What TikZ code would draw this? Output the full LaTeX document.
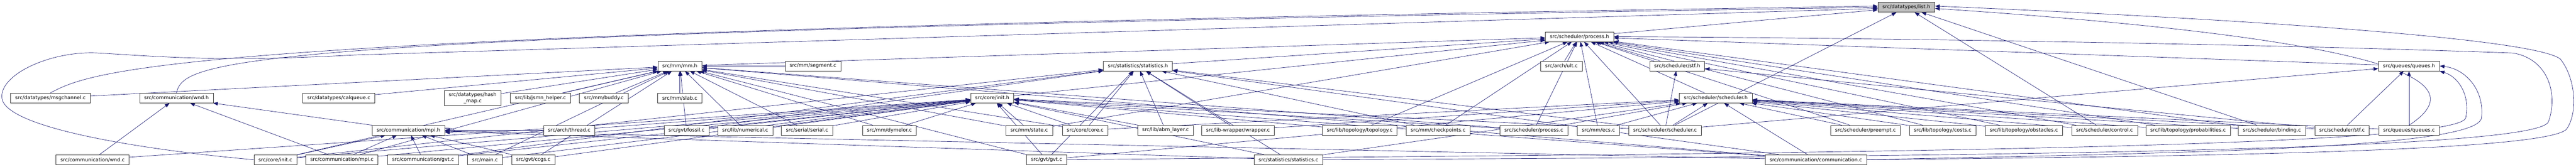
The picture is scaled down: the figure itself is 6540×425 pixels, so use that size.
\documentclass[tikz,border=0pt]{standalone}
\usepackage{fontspec}
\setmainfont{DejaVu Sans}
\usetikzlibrary{arrows.meta,positioning,backgrounds}
\definecolor{midblue}{RGB}{25,25,112}

\begin{document}
\begin{tikzpicture}[
    x=1pt, y=-1pt,
    font=\fontsize{12.7}{15}\selectfont,
    filebox/.style={rectangle, draw=black!80, fill=white, line width=0.9pt, minimum height=25pt, inner xsep=11.5pt, inner ysep=2pt},
    mainbox/.style={filebox, fill=black!25},
    arr/.style={-{Triangle[length=12pt,width=9pt]}, color=midblue, line width=0.9pt}
]
    \useasboundingbox (0,0) rectangle (6540,425);

    \node[mainbox] (listh) at (4840,18.5) {src/datatypes/list.h};
    \node[filebox] (processh) at (4010,93.5) {src/scheduler/process.h};

    \node[filebox] (mmh) at (1726,168) {src/mm/mm.h};
    \node[filebox] (segmentc) at (2064,168) {src/mm/segment.c};
    \node[filebox] (statsh) at (2889,168) {src/statistics/statistics.h};
    \node[filebox] (ultc) at (3964,168) {src/arch/ult.c};
    \node[filebox] (stfh) at (4258,168) {src/scheduler/stf.h};
    \node[filebox] (queuesh) at (6116,168) {src/queues/queues.h};

    \node[filebox] (msgchc) at (128,249.5) {src/datatypes/msgchannel.c};
    \node[filebox] (wndh) at (448,249.5) {src/communication/wnd.h};
    \node[filebox] (calqc) at (860,249.5) {src/datatypes/calqueue.c};
    \node[filebox, align=center, inner ysep=5.5pt] (hashc) at (1200,249.5) {src/datatypes/hash\\\_map.c};
    \node[filebox] (jsmnc) at (1372,249.5) {src/lib/jsmn\_helper.c};
    \node[filebox] (buddyc) at (1533,249.5) {src/mm/buddy.c};
    \node[filebox, below=56pt of mmh] (slabc) {src/mm/slab.c};
    \node[filebox] (inith) at (2519,249.5) {src/core/init.h};
    \node[filebox] (schedh) at (4356,249.5) {src/scheduler/scheduler.h};

    \node[filebox] (mpih) at (1037,331.5) {src/communication/mpi.h};
    \node[filebox] (threadc) at (1445,331.5) {src/arch/thread.c};
    \node[filebox] (fossilc) at (1743,331.5) {src/gvt/fossil.c};
    \node[filebox] (numc) at (1892,331.5) {src/lib/numerical.c};
    \node[filebox] (serialc) at (2049,331.5) {src/serial/serial.c};
    \node[filebox] (dymelorc) at (2258,331.5) {src/mm/dymelor.c};
    \node[filebox] (statec) at (2613,331.5) {src/mm/state.c};
    \node[filebox] (corec) at (2755,331.5) {src/core/core.c};
    \node[filebox] (abmc) at (2959,331.5) {src/lib/abm\_layer.c};
    \node[filebox] (wrapperc) at (3143,331.5) {src/lib-wrapper/wrapper.c};
    \node[filebox] (topoc) at (3452,331.5) {src/lib/topology/topology.c};
    \node[filebox] (ckptc) at (3651,331.5) {src/mm/checkpoints.c};
    \node[filebox] (procc) at (3894,331.5) {src/scheduler/process.c};
    \node[filebox] (ecsc) at (4058,331.5) {src/mm/ecs.c};
    \node[filebox] (schedc) at (4227,331.5) {src/scheduler/scheduler.c};
    \node[filebox] (preemptc) at (4736,331.5) {src/scheduler/preempt.c};
    \node[filebox] (costsc) at (4932,331.5) {src/lib/topology/costs.c};
    \node[filebox] (obstc) at (5138,331.5) {src/lib/topology/obstacles.c};
    \node[filebox] (controlc) at (5343,331.5) {src/scheduler/control.c};
    \node[filebox] (probc) at (5555,331.5) {src/lib/topology/probabilities.c};
    \node[filebox] (bindingc) at (5768,331.5) {src/scheduler/binding.c};
    \node[filebox] (stfc) at (5946,331.5) {src/scheduler/stf.c};
    \node[filebox, below=138pt of queuesh] (queuesc) {src/queues/queues.c};

    \node[filebox] (wndc) at (235,406.5) {src/communication/wnd.c};
    \node[filebox] (initc) at (699,406.5) {src/core/init.c};
    \node[filebox] (mpic) at (868,406.5) {src/communication/mpi.c};
    \node[filebox] (commgvtc) at (1074,406.5) {src/communication/gvt.c};
    \node[filebox] (mainc) at (1231,406.5) {src/main.c};
    \node[filebox] (ccgsc) at (1354,406.5) {src/gvt/ccgs.c};
    \node[filebox] (gvtc) at (2657,406.5) {src/gvt/gvt.c};
    \node[filebox] (statsc) at (3271,406.5) {src/statistics/statistics.c};
    \node[filebox] (commc) at (4610,406.5) {src/communication/communication.c};

    \begin{scope}[on background layer]
    \draw[arr] (processh) -- (listh);
    \draw[arr] (msgchc.north) .. controls (250,170) and (500,80) .. ([yshift=3pt]listh.west);
    \draw[arr] (wndh.north) .. controls (470,150) and (560,85) .. (listh.west);
    \draw[arr] (initc.west) .. controls (400,385) and (15,330) .. (5,250) .. controls (-3,190) and (130,128) .. (250,135) .. controls (420,145) and (560,158) .. (900,140) -- ([yshift=-3pt]listh.west);
    \draw[arr] (schedc) -- (listh);
    \draw[arr] (controlc) -- (listh);
    \draw[arr] (bindingc) -- (listh);
    \draw[arr] (queuesc.north) .. controls (6250,230) and (6230,110) .. ([yshift=-3pt]listh.east);
    \draw[arr] (commc.east) .. controls (5600,398) and (6450,385) .. (6515,330) .. controls (6545,290) and (6540,200) .. (6500,150) .. controls (6420,90) and (5500,40) .. ([yshift=3pt]listh.east);

    \draw[arr] (stfh) -- (processh);
    \draw[arr] (mmh) -- (processh);
    \draw[arr] (statsh) -- (processh);
    \draw[arr] (queuesh) -- (processh);
    \draw[arr] (inith) -- (processh);
    \draw[arr] (schedh) -- (processh);
    \draw[arr] (ultc) -- (processh);
    \draw[arr] (statec) -- (processh);
    \draw[arr] (topoc) -- (processh);
    \draw[arr] (ckptc) -- (processh);
    \draw[arr] (procc) -- (processh);
    \draw[arr] (ecsc) -- (processh);
    \draw[arr] (schedc) -- (processh);
    \draw[arr] (preemptc) -- (processh);
    \draw[arr] (costsc) -- (processh);
    \draw[arr] (obstc) -- (processh);
    \draw[arr] (controlc) -- (processh);
    \draw[arr] (probc) -- (processh);
    \draw[arr] (bindingc) -- (processh);
    \draw[arr] (statsc.east) .. controls (5000,398) and (6440,385) .. (6470,310) .. controls (6495,240) and (6470,150) .. (6380,135) .. controls (5700,110) and (4600,95) .. (processh.east);

    \draw[arr] (msgchc) -- (mmh);
    \draw[arr] (calqc) -- (mmh);
    \draw[arr] (hashc) -- (mmh);
    \draw[arr] (jsmnc) -- (mmh);
    \draw[arr] (buddyc) -- (mmh);
    \draw[arr] (slabc) -- (mmh);
    \draw[arr] (segmentc) -- (mmh);
    \draw[arr] (fossilc) -- (mmh);
    \draw[arr] (numc) -- (mmh);
    \draw[arr] (serialc) -- (mmh);
    \draw[arr] (dymelorc) -- (mmh);
    \draw[arr] (statec) -- (mmh);
    \draw[arr] (corec) -- (mmh);
    \draw[arr] (procc) -- (mmh);
    \draw[arr] (initc) -- (mmh);
    \draw[arr] (mpic) -- (mmh);
    \draw[arr] (mainc) -- (mmh);
    \draw[arr] (ccgsc) -- (mmh);
    \draw[arr] (gvtc) -- (mmh);
    \draw[arr] (commc) -- (mmh);

    \draw[arr] (fossilc) -- (statsh);
    \draw[arr] (corec) -- (statsh);
    \draw[arr] (abmc) -- (statsh);
    \draw[arr] (wrapperc) -- (statsh);
    \draw[arr] (ckptc) -- (statsh);
    \draw[arr] (schedc) -- (statsh);
    \draw[arr] (initc) -- (statsh);
    \draw[arr] (commgvtc) -- (statsh);
    \draw[arr] (gvtc) -- (statsh);
    \draw[arr] (statsc) -- (statsh);
    \draw[arr] (commc) -- (statsh);

    \draw[arr] (schedc) -- (stfh);
    \draw[arr] (stfc) -- (stfh);
    \draw[arr] (schedc) -- (queuesh);
    \draw[arr] (stfc) -- (queuesh);
    \draw[arr] (queuesc) -- (queuesh);
    \draw[arr] (gvtc.east) .. controls (4200,392) and (6240,385) .. (6260,300) .. controls (6272,240) and (6240,195) .. (queuesh.south east);
    \draw[arr] (commc.east) .. controls (5500,390) and (6290,380) .. (6300,300) .. controls (6308,230) and (6260,175) .. (queuesh.east);

    \draw[arr] (mpih) -- (wndh);
    \draw[arr] (wndc) -- (wndh);
    \draw[arr] (mpic) -- (wndh);

    \draw[arr] (wndc) -- (inith);
    \draw[arr] (threadc) -- (inith);
    \draw[arr] (fossilc) -- (inith);
    \draw[arr] (numc) -- (inith);
    \draw[arr] (serialc) -- (inith);
    \draw[arr] (dymelorc) -- (inith);
    \draw[arr] (statec) -- (inith);
    \draw[arr] (corec) -- (inith);
    \draw[arr] (abmc) -- (inith);
    \draw[arr] (topoc) -- (inith);
    \draw[arr] (procc) -- (inith);
    \draw[arr] (schedc) -- (inith);
    \draw[arr] (initc) -- (inith);
    \draw[arr] (mpic) -- (inith);
    \draw[arr] (commgvtc) -- (inith);
    \draw[arr] (mainc) -- (inith);
    \draw[arr] (ccgsc) -- (inith);
    \draw[arr] (gvtc) -- (inith);
    \draw[arr] (statsc) -- (inith);
    \draw[arr] (commc) -- (inith);

    \draw[arr] (corec) -- (schedh);
    \draw[arr] (wrapperc) -- (schedh);
    \draw[arr] (procc) -- (schedh);
    \draw[arr] (ecsc) -- (schedh);
    \draw[arr] (schedc) -- (schedh);
    \draw[arr] (preemptc) -- (schedh);
    \draw[arr] (costsc) -- (schedh);
    \draw[arr] (obstc) -- (schedh);
    \draw[arr] (controlc) -- (schedh);
    \draw[arr] (probc) -- (schedh);
    \draw[arr] (bindingc) -- (schedh);
    \draw[arr] (stfc) -- (schedh);
    \draw[arr] (queuesc) -- (schedh);
    \draw[arr] (gvtc) -- (schedh);
    \draw[arr] (statsc) -- (schedh);
    \draw[arr] (commc) -- (schedh);

    \draw[arr] (threadc) -- (mpih);
    \draw[arr] (initc) -- (mpih);
    \draw[arr] (mpic) -- (mpih);
    \draw[arr] (commgvtc) -- (mpih);
    \draw[arr] (mainc) -- (mpih);
    \draw[arr] (ccgsc) -- (mpih);
    \draw[arr] (statsc) -- (mpih);
    \draw[arr] (commc) -- (mpih);
    \draw[arr] ([yshift=5pt]mpih.east) .. controls +(30,-2) and +(30,2) .. ([yshift=-5pt]mpih.east);
    \end{scope}
\end{tikzpicture}
\end{document}
